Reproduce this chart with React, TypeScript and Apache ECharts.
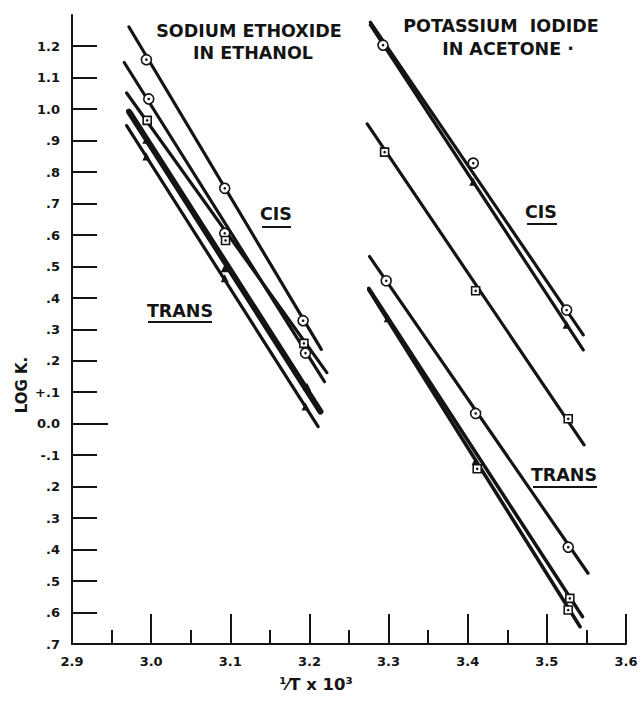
import React, { useEffect, useRef } from "react";
import * as echarts from "echarts";

// ---- axis ticks ----
const xTickValues = [2.9, 3.0, 3.1, 3.2, 3.3, 3.4, 3.5, 3.6];
const xTickLabels = ["2.9", "3.0", "3.1", "3.2", "3.3", "3.4", "3.5", "3.6"];
const yTickValues = [-0.7, -0.6, -0.5, -0.4, -0.3, -0.2, -0.1, 0, 0.1, 0.2, 0.3, 0.4, 0.5, 0.6, 0.7, 0.8, 0.9, 1.0, 1.1, 1.2];
const yTickLabels = [".7", ".6", ".5", ".4", ".3", ".2", "-.1", "0.0", "+.1", ".2", ".3", ".4", ".5", ".6", ".7", ".8", ".9", "1.0", "1.1", "1.2"];

// ---- Sodium ethoxide in ethanol (fitted lines + measured points) ----
const naLineA = [[2.972, 1.262], [3.215, 0.237]];
const naPointsA = [[2.994, 1.158], [3.093, 0.749], [3.192, 0.328]];
const naLineB = [[2.966, 1.149], [3.219, 0.134]];
const naPointsB = [[2.997, 1.033], [3.093, 0.606], [3.195, 0.225]];
const naLineC = [[2.969, 1.052], [3.222, 0.163]];
const naPointsC = [[2.995, 0.965], [3.094, 0.583], [3.193, 0.256]];
const naLineD = [[2.972, 0.993], [3.214, 0.039]];
const naPointsD = [[2.994, 0.903], [3.093, 0.495], [3.197, 0.118]];
const naLineE = [[2.969, 0.948], [3.211, -0.009]];
const naPointsE = [[2.994, 0.85], [3.093, 0.463], [3.195, 0.055]];

// ---- Potassium iodide in acetone ----
const kiLineH1 = [[3.277, 1.277], [3.546, 0.283]];
const kiPointsH1 = [[3.293, 1.204], [3.407, 0.829], [3.525, 0.362]];
const kiLineH2 = [[3.277, 1.269], [3.546, 0.235]];
const kiPointsH2 = [[3.407, 0.77], [3.525, 0.315]];
const kiLineI = [[3.273, 0.954], [3.547, -0.067]];
const kiPointsI = [[3.295, 0.864], [3.41, 0.423], [3.527, 0.016]];
const kiLineF = [[3.276, 0.532], [3.552, -0.475]];
const kiPointsF = [[3.297, 0.455], [3.41, 0.033], [3.527, -0.392]];
const kiLineG1 = [[3.275, 0.431], [3.545, -0.613]];
const kiLineG2 = [[3.275, 0.426], [3.542, -0.645]];
const kiPointsGsq = [[3.412, -0.143], [3.529, -0.555], [3.527, -0.592]];
const kiPointsGtri = [[3.299, 0.336], [3.41, -0.118]];

const INK = "#141414";
const FONT = "DejaVu Sans";
const X_MIN = 2.9;
const Y_TICK_LEN = 0.0316; // in x units (about 25 px)
const Y_ZERO_TICK_LEN = 0.0455; // the 0.0 tick is longer

function lineSeries(data: number[][], width = 3.2) {
  return {
    type: "line",
    data,
    showSymbol: false,
    symbol: "none",
    silent: true,
    z: 2,
    lineStyle: { color: INK, width, cap: "round" },
  };
}

function openMarker(data: number[][], symbol: string, size: number) {
  return [
    {
      type: "scatter",
      data,
      symbol,
      symbolSize: size,
      silent: true,
      z: 5,
      itemStyle: { color: "#fff", borderColor: INK, borderWidth: 1.6, opacity: 1 },
    },
    {
      type: "scatter",
      data,
      symbol: "circle",
      symbolSize: 2.6,
      silent: true,
      z: 6,
      itemStyle: { color: INK, opacity: 1 },
    },
  ];
}

function filledMarker(data: number[][]) {
  return {
    type: "scatter",
    data,
    symbol: "triangle",
    symbolSize: 8,
    silent: true,
    z: 5,
    itemStyle: { color: INK, opacity: 1 },
  };
}

function label(text: string, x: number, y: number, size = 17.5, extra: any = {}) {
  return {
    type: "text",
    x,
    y,
    silent: true,
    z: 10,
    ...extra,
    style: {
      text,
      fill: INK,
      fontFamily: FONT,
      fontWeight: "bold",
      fontSize: size,
      align: "center",
      verticalAlign: "middle",
      textAlign: "center",
      textVerticalAlign: "middle",
    },
  };
}

function underline(x1: number, x2: number, y: number) {
  return {
    type: "line",
    silent: true,
    z: 10,
    shape: { x1, y1: y, x2, y2: y },
    style: { stroke: INK, lineWidth: 2 },
  };
}

export default function App() {
  const ref = useRef<HTMLDivElement>(null);

  useEffect(() => {
    if (!ref.current) return;
    const chart = echarts.init(ref.current, null, { renderer: "svg" });
    const axisText = {
      color: INK,
      fontFamily: FONT,
      fontWeight: "bold",
      fontSize: 13,
    };
    const tickText = (values: number[], labels: string[]) => (v: number) => {
      const i = values.findIndex((t) => Math.abs(t - v) < 1e-6);
      return i >= 0 ? labels[i] : "";
    };
    const texts = [
      label("SODIUM ETHOXIDE", 249, 31),
      label("IN ETHANOL", 253, 53),
      label("POTASSIUM  IODIDE", 501, 26),
      label("IN ACETONE ·", 508, 49),
      label("CIS", 276, 214),
      underline(262, 291, 227),
      label("TRANS", 180, 311),
      underline(148, 212, 322),
      label("CIS", 541, 212),
      underline(527, 557, 224),
      label("TRANS", 564, 475),
      underline(533, 597, 487),
      label("LOG K.", 22, 385, 15, { rotation: Math.PI / 2 }),
      label("¹⁄T x 10³", 316, 684, 16.5),
    ];
    const option: any = {
      animation: false,
      backgroundColor: "#fff",
      grid: { left: 72, right: 16, top: 15, bottom: 58 },
      xAxis: {
        type: "value",
        min: 2.9,
        max: 3.6,
        interval: 0.1,
        axisLine: { show: true, onZero: false, lineStyle: { color: INK, width: 2 } },
        axisTick: { show: true, inside: true, length: 30, lineStyle: { color: INK, width: 2 } },
        minorTick: { show: true, splitNumber: 2, length: 14, lineStyle: { color: INK, width: 2 } },
        splitLine: { show: false },
        minorSplitLine: { show: false },
        axisLabel: { ...axisText, margin: 11, formatter: tickText(xTickValues, xTickLabels) },
      },
      yAxis: {
        type: "value",
        min: -0.7,
        max: 1.3,
        interval: 0.1,
        axisLine: { show: true, onZero: false, lineStyle: { color: INK, width: 2 } },
        axisTick: { show: false },
        splitLine: { show: false },
        axisLabel: { ...axisText, margin: 12, formatter: tickText(yTickValues, yTickLabels) },
      },
      series: [
        lineSeries(naLineA),
        lineSeries(naLineB),
        lineSeries(naLineC),
        lineSeries(naLineD, 6),
        lineSeries(naLineE),
        lineSeries(kiLineH1),
        lineSeries(kiLineH2),
        lineSeries(kiLineI),
        lineSeries(kiLineF),
        lineSeries(kiLineG1, 3.6),
        lineSeries(kiLineG2, 3.6),
        ...openMarker(naPointsA, "circle", 10),
        ...openMarker(naPointsB, "circle", 10),
        ...openMarker(naPointsC, "rect", 8),
        filledMarker(naPointsD),
        filledMarker(naPointsE),
        ...openMarker(kiPointsH1, "circle", 10),
        filledMarker(kiPointsH2),
        ...openMarker(kiPointsI, "rect", 8),
        ...openMarker(kiPointsF, "circle", 10),
        ...openMarker(kiPointsGsq, "rect", 8),
        filledMarker(kiPointsGtri),
      ],
      graphic: texts,
    };
    chart.setOption(option);

    // y-axis ticks, placed through the axis scale (the 0.0 tick is longer)
    const tickPoints: number[] = [];
    const ticks = yTickValues.map((v) => {
      const p0 = chart.convertToPixel({ gridIndex: 0 }, [X_MIN, v]) as number[];
      const len = Math.abs(v) < 1e-9 ? Y_ZERO_TICK_LEN : Y_TICK_LEN;
      const p1 = chart.convertToPixel({ gridIndex: 0 }, [X_MIN + len, v]) as number[];
      tickPoints.push(p0[1]);
      return {
        type: "rect",
        silent: true,
        z: 100,
        zlevel: 0,
        shape: { x: p0[0], y: Math.round(p0[1]) - 1, width: p1[0] - p0[0], height: 2 },
        style: { fill: INK, stroke: null },
      };
    });
    chart.setOption({ graphic: [...texts, ...ticks] });
    return () => chart.dispose();
  }, []);

  return (
    <div
      ref={ref}
      style={{ position: "absolute", left: 0, top: 0, width: 642, height: 702 }}
    />
  );
}
